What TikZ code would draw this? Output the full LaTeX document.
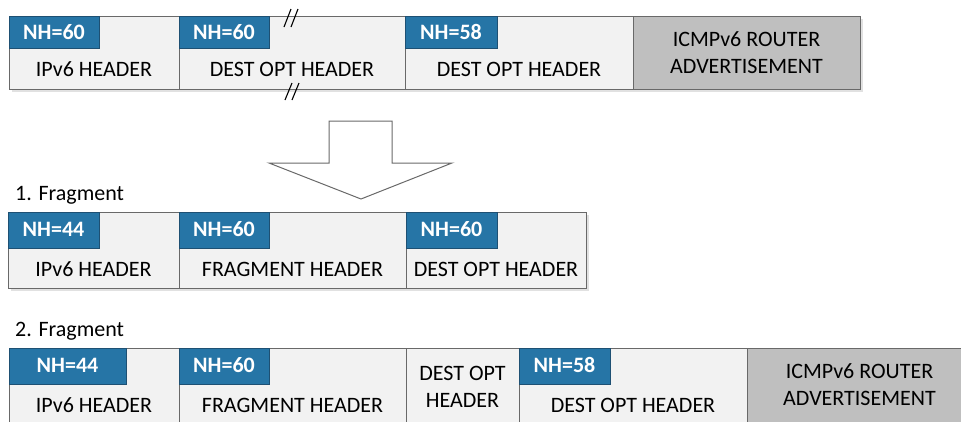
\documentclass[tikz,border=0pt]{standalone}
\usepackage{fontspec}
\setmainfont{Carlito}
\definecolor{tabblue}{RGB}{38,117,166}
\definecolor{tabedge}{RGB}{30,80,115}
\definecolor{cellfill}{RGB}{242,242,242}
\definecolor{grayfill}{RGB}{191,191,191}
\definecolor{edgec}{RGB}{105,105,105}
\definecolor{shadowc}{RGB}{225,225,225}
\begin{document}
\begin{tikzpicture}[x=1pt,y=-1pt,
  cellbox/.style={fill=cellfill,draw=edgec,line width=1pt},
  graybox/.style={fill=grayfill,draw=edgec,line width=1pt},
  divider/.style={draw=edgec,line width=1pt},
  tabbox/.style={fill=tabblue,draw=tabedge,line width=0.8pt},
  shadowbox/.style={fill=shadowc},
  txt/.style={font=\fontsize{22}{26.5}\selectfont,anchor=base,inner sep=0pt,align=center,text=black},
  tabtxt/.style={font=\fontsize{22}{26.5}\selectfont\bfseries,anchor=base,inner sep=0pt,text=white},
  lbl/.style={font=\fontsize{22}{26.5}\selectfont,anchor=base west,inner sep=0pt},
  bigarrow/.style={fill=white,draw=edgec,line width=1pt,line join=miter},
  slash/.style={draw=black,line width=1.1pt}]
\useasboundingbox (0,0) rectangle (961,421);

% ---------- Row 1 (original packet) ----------
\fill[shadowbox] (12,19) rectangle (863,92);
\draw[cellbox] (9,16) rectangle (633,89);
\draw[graybox] (633,16) rectangle (860,89);
\draw[divider] (179,16) -- (179,89);
\draw[divider] (405,16) -- (405,89);
\draw[tabbox] (9,16) rectangle (99,48);
\draw[tabbox] (179,16) rectangle (269,48);
\draw[tabbox] (405,16) rectangle (497,48);
\node[tabtxt] (r1t1) at (54,39) {NH=60};
\node[tabtxt] (r1t2) at (224,39) {NH=60};
\node[tabtxt] (r1t3) at (451,39) {NH=58};
\node[txt] (r1c1) at (94,76) {IPv6 HEADER};
\node[txt] (r1c2) at (292,76) {DEST OPT HEADER};
\node[txt] (r1c3) at (519,76) {DEST OPT HEADER};
\node[txt] (r1c4) at (746.5,73) {ICMPv6 ROUTER\\ADVERTISEMENT};
% break marks
\draw[slash] (284,27) -- (291,9);
\draw[slash] (291,27) -- (298,9);
\draw[slash] (285,100) -- (292,83);
\draw[slash] (292,100) -- (299,83);

% ---------- Arrow ----------
\draw[bigarrow] (329,121) -- (392,121) -- (392,163) -- (452,163) -- (361,199)
  -- (269,163) -- (329,163) -- cycle;

% ---------- Row 2 (1. Fragment) ----------
\node[lbl] (f1) at (15,200) {1. Fragment};
\fill[shadowbox] (11,215) rectangle (589,291);
\draw[cellbox] (8,212) rectangle (586,288);
\draw[divider] (179,212) -- (179,288);
\draw[divider] (406,212) -- (406,288);
\draw[tabbox] (8,212) rectangle (99,248);
\draw[tabbox] (179,212) rectangle (269,248);
\draw[tabbox] (406,212) rectangle (497,248);
\node[tabtxt] (r2t1) at (53.5,236) {NH=44};
\node[tabtxt] (r2t2) at (224,236) {NH=60};
\node[tabtxt] (r2t3) at (451.5,236) {NH=60};
\node[txt] (r2c1) at (93.5,276) {IPv6 HEADER};
\node[txt] (r2c2) at (292.5,276) {FRAGMENT HEADER};
\node[txt] (r2c3) at (496,276) {DEST OPT HEADER};

% ---------- Row 3 (2. Fragment) ----------
\node[lbl] (f2) at (15,336) {2. Fragment};
\draw[cellbox] (9,348) rectangle (747,440);
\draw[graybox] (747,348) rectangle (980,440);
\draw[divider] (179,348) -- (179,440);
\draw[divider] (406,348) -- (406,440);
\draw[divider] (519,348) -- (519,440);
\draw[tabbox] (9,348) rectangle (126,384);
\draw[tabbox] (179,348) rectangle (269,384);
\draw[tabbox] (519,348) rectangle (610,384);
\node[tabtxt] (r3t1) at (67.5,372) {NH=44};
\node[tabtxt] (r3t2) at (224,372) {NH=60};
\node[tabtxt] (r3t3) at (564.5,372) {NH=58};
\node[txt] (r3c1) at (94,412) {IPv6 HEADER};
\node[txt] (r3c2) at (292.5,412) {FRAGMENT HEADER};
\node[txt] (r3c3) at (462.5,407) {DEST OPT\\HEADER};
\node[txt] (r3c4) at (633,412) {DEST OPT HEADER};
\node[txt] (r3c5) at (859.5,405) {ICMPv6 ROUTER\\ADVERTISEMENT};
\end{tikzpicture}
\end{document}
